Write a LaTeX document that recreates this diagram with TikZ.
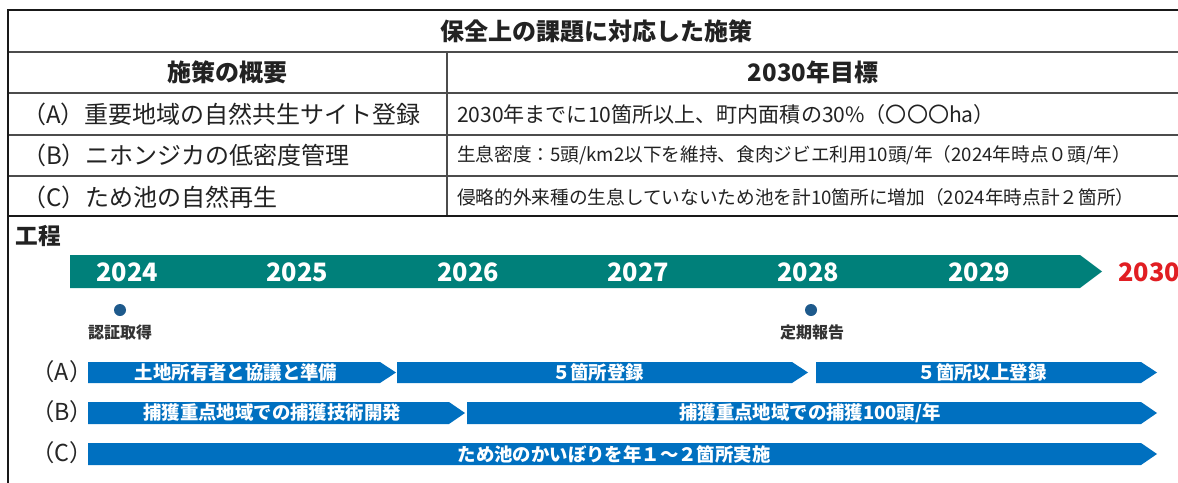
\documentclass[tikz,border=0pt]{standalone}
\usepackage{fontspec}
\setmainfont{Noto Sans CJK JP}
\definecolor{tealc}{RGB}{0,128,122}
\definecolor{barc}{RGB}{0,112,192}
\definecolor{dotc}{RGB}{30,90,140}
\definecolor{redc}{RGB}{225,30,35}
\definecolor{txtc}{RGB}{34,34,34}
\newcommand\myfs[1]{\fontsize{#1pt}{#1pt}\selectfont}
\newcommand\tlbar[4]{\fill[barc] (#1,#3) -- ({#2-16},#3) -- (#2,{(#3+#4)/2}) -- ({#2-16},#4) -- (#1,#4) -- cycle;}
\tikzset{
  every node/.style={inner sep=0pt, outer sep=0pt, text=txtc},
  hdr/.style={font=\myfs{18}\bfseries},
  cellL/.style={font=\myfs{18}, anchor=west},
  cellA/.style={font=\myfs{15.8}, anchor=west},
  cellS/.style={font=\myfs{14}, anchor=west},
  frame/.style={line width=2.2pt, black!90},
  rule/.style={line width=1pt, black!70},
  year/.style={font=\myfs{19}\bfseries, text=white},
  bartxt/.style={font=\myfs{13.8}\bfseries, text=white},
  mile/.style={font=\myfs{12}\bfseries, text=black!80},
  rowlab/.style={font=\myfs{17.5}, text=black!85},
  mdot/.style={circle, fill=dotc, minimum size=9pt}
}
\begin{document}
\begin{tikzpicture}[x=0.75pt,y=-0.75pt]
\useasboundingbox (0,0) rectangle (1178,482);
\fill[white] (0,0) rectangle (1178,482);
% table
\draw[rule] (8,52) -- (1180,52);
\draw[rule] (8,93) -- (1180,93);
\draw[rule] (8,135) -- (1180,135);
\draw[rule] (8,176) -- (1180,176);
\draw[rule] (447,52) -- (447,216);
\draw[frame] (1182,10) -- (8,10) -- (8,486);
\draw[frame] (8,216) -- (1182,216);
\node[hdr] (title) at (596,31) {保全上の課題に対応した施策};
\node[hdr] (h1) at (227,72) {施策の概要};
\node[hdr] (h2) at (813,72) {2030年目標};
\node[cellL] (la) at (22,114) {（A）重要地域の自然共生サイト登録};
\node[cellL] (lb) at (22,155) {（B）ニホンジカの低密度管理};
\node[cellL] (lc) at (22,197) {（C）ため池の自然再生};
\node[cellA] (ra) at (457,114) {2030年までに10箇所以上、町内面積の30\%（〇〇〇ha）};
\node[cellS] (rb) at (457,155) {生息密度：5頭/km2以下を維持、食肉ジビエ利用10頭/年（2024年時点０頭/年）};
\node[cellS] (rc) at (457,197) {侵略的外来種の生息していないため池を計10箇所に増加（2024年時点計２箇所）};
% timeline
\node[hdr, anchor=west, font=\myfs{17}\bfseries] (kotei) at (16,236) {工程};
\fill[tealc] (70,255) -- (1080,255) -- (1102,271.5) -- (1080,288) -- (70,288) -- cycle;
\node[year] (y24) at (127,272) {2024};
\node[year] (y25) at (297,272) {2025};
\node[year] (y26) at (468,272) {2026};
\node[year] (y27) at (638,272) {2027};
\node[year] (y28) at (808,272) {2028};
\node[year] (y29) at (979,272) {2029};
\node[year, text=redc] (y30) at (1149,272) {2030};
\node[mdot] (d1) at (120,310) {};
\node[mdot] (d2) at (811,310) {};
\node[mile] (m1) at (120,332) {認証取得};
\node[mile] (m2) at (812,332) {定期報告};
\node[rowlab] (ka) at (62,372) {（A）};
\node[rowlab] (kb) at (62,412) {（B）};
\node[rowlab] (kc) at (62,453) {（C）};
\tlbar{88}{396}{362}{383}
\tlbar{397}{808}{362}{383}
\tlbar{816}{1157}{362}{383}
\tlbar{88}{465}{402}{424}
\tlbar{467}{1157}{402}{424}
\tlbar{88}{1157}{443}{465}
\node[bartxt] (a1) at (236,372.5) {土地所有者と協議と準備};
\node[bartxt] (a2) at (598,372.5) {５箇所登録};
\node[bartxt] (a3) at (982,372.5) {５箇所以上登録};
\node[bartxt] (b1) at (272,413) {捕獲重点地域での捕獲技術開発};
\node[bartxt] (b2) at (810,413) {捕獲重点地域での捕獲100頭/年};
\node[bartxt] (c1) at (614,454) {ため池のかいぼりを年１～２箇所実施};
\end{tikzpicture}
\end{document}
